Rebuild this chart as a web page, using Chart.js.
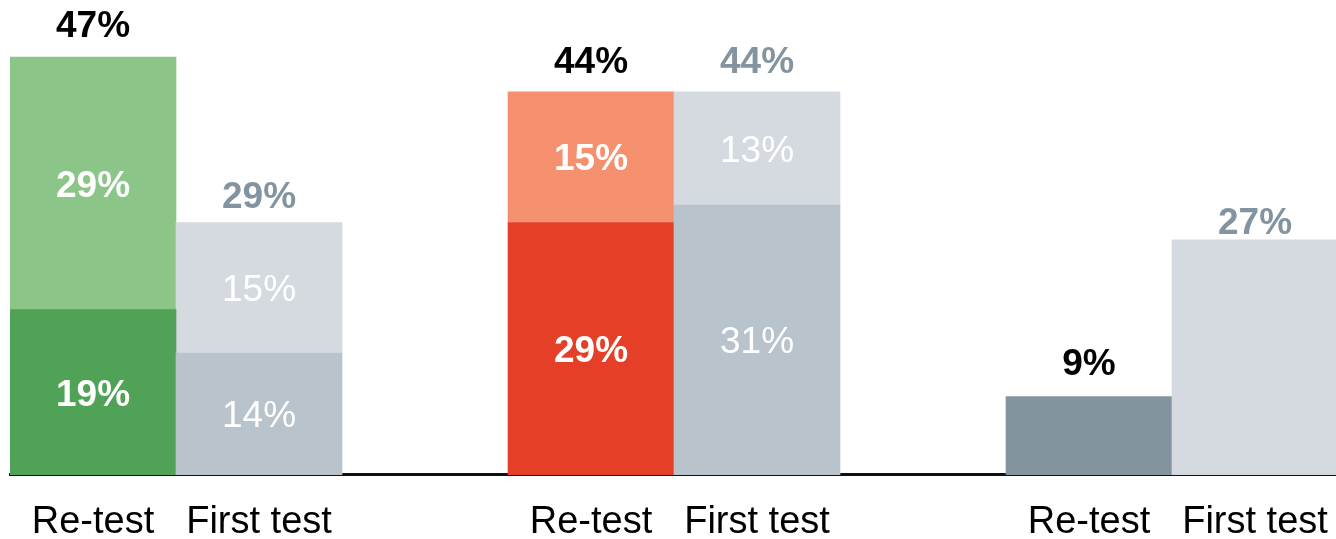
<!DOCTYPE html>
<html>
<head>
<meta charset="utf-8">
<script src="https://cdn.jsdelivr.net/npm/chart.js@4/dist/chart.umd.min.js"></script>
<style>
  html, body { margin: 0; padding: 0; background: #ffffff; overflow: hidden; }
  #wrap { position: relative; width: 1338px; height: 571px; }
</style>
</head>
<body>
<div id="wrap"><canvas id="c"></canvas></div>
<script>
// ---- data ----
const testNames = ['Re-test', 'First test'];
const retestLower = [19, 29, 9];
const retestUpper = [29, 15, null];
const firstLower  = [14, 31, 27];
const firstUpper  = [15, 13, null];
const retestTotals = [47, 44, 9];
const firstTotals  = [29, 44, 27];

// ---- styles ----
const retestLowerColors = ['#4fa256', '#e53f27', '#83949f'];
const retestUpperColors = ['#8bc688', '#f4906e', '#83949f'];
const firstLowerColors  = ['#b9c3cc', '#b9c3cc', '#d5dae1'];
const firstUpperColors  = ['#d5dae1', '#d5dae1', '#d5dae1'];
const totalGapRetest = [20, 19, 22];
const totalGapFirst  = [15, 19, 6];
const FONT = '"Liberation Sans", Arial, Helvetica, sans-serif';

// build slots: Re-test, First test, (gap) per group
const labels = [], lower = [], upper = [], lowerC = [], upperC = [], totals = [], kinds = [], gaps = [];
for (let g = 0; g < retestLower.length; g++) {
  labels.push(testNames[0]); lower.push(retestLower[g]); upper.push(retestUpper[g]);
  lowerC.push(retestLowerColors[g]); upperC.push(retestUpperColors[g]);
  totals.push(retestTotals[g]); kinds.push('re'); gaps.push(totalGapRetest[g]);
  labels.push(testNames[1]); lower.push(firstLower[g]); upper.push(firstUpper[g]);
  lowerC.push(firstLowerColors[g]); upperC.push(firstUpperColors[g]);
  totals.push(firstTotals[g]); kinds.push('first'); gaps.push(totalGapFirst[g]);
  if (g < retestLower.length - 1) {
    labels.push(''); lower.push(null); upper.push(null);
    lowerC.push('rgba(0,0,0,0)'); upperC.push('rgba(0,0,0,0)');
    totals.push(null); kinds.push(null); gaps.push(0);
  }
}

const labelPlugin = {
  id: 'barLabels',
  afterDatasetsDraw(chart) {
    const ctx = chart.ctx;
    const m0 = chart.getDatasetMeta(0).data;
    const m1 = chart.getDatasetMeta(1).data;
    const size = 37;
    const cap = size * 0.716;
    ctx.save();
    ctx.textAlign = 'center';
    ctx.textBaseline = 'alphabetic';
    for (let j = 0; j < labels.length; j++) {
      if (kinds[j] === null) continue;
      const weight = kinds[j] === 're' ? 'bold ' : '';
      // inside labels only when the bar has two segments
      if (upper[j] != null && lower[j] != null) {
        ctx.fillStyle = '#ffffff';
        ctx.font = weight + size + 'px ' + FONT;
        const b = m0[j], t = m1[j];
        ctx.fillText(lower[j] + '%', b.x, (b.y + b.base) / 2 + cap / 2);
        ctx.fillText(upper[j] + '%', t.x, (t.y + t.base) / 2 + cap / 2);
      }
      if (totals[j] != null) {
        const top = upper[j] != null ? m1[j] : m0[j];
        ctx.fillStyle = kinds[j] === 're' ? '#000000' : '#8394a0';
        ctx.font = 'bold ' + size + 'px ' + FONT;
        ctx.fillText(totals[j] + '%', top.x, top.y - gaps[j]);
      }
    }
    ctx.restore();
  }
};

new Chart(document.getElementById('c'), {
  type: 'bar',
  data: {
    labels: labels,
    datasets: [
      { data: lower, backgroundColor: lowerC, borderWidth: 0, stack: 's' },
      { data: upper, backgroundColor: upperC, borderWidth: 0, stack: 's' }
    ]
  },
  options: {
    responsive: true,
    maintainAspectRatio: false,
    animation: false,
    events: [],
    layout: { padding: { left: 10, right: 0, top: 31, bottom: 0 } },
    plugins: { legend: { display: false }, tooltip: { enabled: false } },
    datasets: { bar: { categoryPercentage: 1, barPercentage: 1 } },
    scales: {
      x: {
        stacked: true,
        grid: { display: false, drawTicks: false },
        border: { display: true, color: '#111111', width: 3 },
        ticks: {
          color: '#000000',
          font: { family: FONT, size: 38, lineHeight: 2.316 },
          padding: 4,
          autoSkip: false,
          maxRotation: 0
        }
      },
      y: {
        stacked: true,
        display: false,
        min: 0,
        max: 51
      }
    }
  },
  plugins: [labelPlugin]
});
</script>
</body>
</html>
